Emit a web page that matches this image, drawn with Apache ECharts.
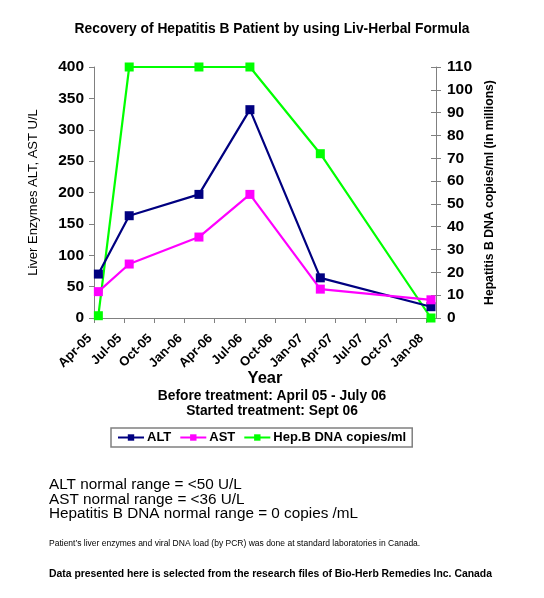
<!DOCTYPE html>
<html>
<head>
<meta charset="utf-8">
<script src="https://cdn.jsdelivr.net/npm/echarts@6/dist/echarts.min.js"></script>
<style>
html,body{margin:0;padding:0;background:#fff;}
#lineChart{width:544px;height:598px;}
</style>
</head>
<body>
<div id="lineChart"></div>
<script>
// test dates, ALT / AST in U/L, Hep.B DNA in millions copies/ml
var testDates = ['2005-04-14','2005-07-16','2006-02-14','2006-07-16','2007-02-16','2008-01-16'];
var altArr = [70, 163, 197, 332, 64, 18];
var astArr = [42, 86, 129, 197, 46, 29];
var dnaArr = [1, 110, 110, 110, 72, 0];
var xLabels = ['Apr-05','Jul-05','Oct-05','Jan-06','Apr-06','Jul-06','Oct-06','Jan-07','Apr-07','Jul-07','Oct-07','Jan-08'];
var leftTicks = [0, 50, 100, 150, 200, 250, 300, 350, 400];
var rightTicks = [0, 10, 20, 30, 40, 50, 60, 70, 80, 90, 100, 110];

var FONT = 'Liberation Sans, Arial, sans-serif';
var AXIS_COLOR = '#808080';

// months counted from 1 Apr 2005
function toMonths(s){
	var p = s.split('-');
	return (parseInt(p[0], 10) - 2005) * 12 + (parseInt(p[1], 10) - 4) + (parseInt(p[2], 10) - 1) / 30;
}
function pairs(vals){
	var out = [];
	for(var i = 0; i < vals.length; i++){
		out.push([toMonths(testDates[i]), vals[i]]);
	}
	return out;
}
function lineSeries(name, color, vals, yIdx){
	return {
		name: name,
		type: 'line',
		yAxisIndex: yIdx,
		data: pairs(vals),
		symbol: 'rect',
		symbolSize: 9,
		lineStyle: {color: color, width: 2.2},
		itemStyle: {color: color},
		z: yIdx == 1 ? 2 : 3
	};
}

var myLine = echarts.init(document.getElementById('lineChart'));
var yStyle = {
	axisLine: {show: true, lineStyle: {color: AXIS_COLOR, width: 1}},
	axisTick: {show: true, length: 5, lineStyle: {color: AXIS_COLOR}},
	splitLine: {show: false}
};
var opt = {
	backgroundColor: '#fff',
	animation: false,
	title: {
		text: 'Recovery of Hepatitis B Patient by using Liv-Herbal Formula',
		left: 'center',
		top: 17,
		textStyle: {fontFamily: FONT, fontSize: 13.8, fontWeight: 'bold', color: '#000'}
	},
	legend: {
		left: 111,
		top: 428,
		padding: [3, 6, 3, 6],
		itemGap: 8,
		itemWidth: 26,
		itemHeight: 8,
		borderColor: AXIS_COLOR,
		borderWidth: 1.5,
		borderRadius: 0,
		textStyle: {fontFamily: FONT, fontSize: 13, fontWeight: 'bold', color: '#000', padding: [0, 0, 0, -2]},
		data: ['ALT', 'AST', 'Hep.B DNA copies/ml']
	},
	grid: {left: 94, right: 108, top: 67, bottom: 280, containLabel: false},
	xAxis: {
		type: 'value',
		min: 0,
		max: 34,
		interval: 3,
		name: 'Year',
		nameLocation: 'middle',
		nameGap: 52,
		nameMoveOverlap: false,
		nameTextStyle: {fontFamily: FONT, fontSize: 16.5, fontWeight: 'bold', color: '#000'},
		axisLine: {show: true, lineStyle: {color: AXIS_COLOR, width: 1}},
		axisTick: {show: true, length: 5, lineStyle: {color: AXIS_COLOR}},
		splitLine: {show: false},
		axisLabel: {
			rotate: 45,
			margin: 14,
			padding: [0, 6, 0, 0],
			showMaxLabel: false,
			fontFamily: FONT, fontSize: 13, fontWeight: 'bold', color: '#000',
			formatter: function(v){
				var i = Math.round(v / 3);
				return (v % 3 === 0 && xLabels[i]) ? xLabels[i] : '';
			}
		}
	},
	yAxis: [
		echarts.util.extend({
			type: 'value', position: 'left',
			min: leftTicks[0], max: leftTicks[leftTicks.length - 1], interval: leftTicks[1] - leftTicks[0],
			name: 'Liver Enzymes ALT, AST U/L',
			nameLocation: 'middle', nameRotate: 90, nameGap: 54,
			nameTextStyle: {fontFamily: FONT, fontSize: 13, color: '#000'},
			axisLabel: {margin: 10, fontFamily: FONT, fontSize: 15.5, fontWeight: 'bold', color: '#000'}
		}, yStyle),
		echarts.util.extend({
			type: 'value', position: 'right',
			min: rightTicks[0], max: rightTicks[rightTicks.length - 1], interval: rightTicks[1] - rightTicks[0],
			name: 'Hepatitis B DNA copies/ml (in millions)',
			nameLocation: 'middle', nameRotate: 90, nameGap: 45,
			nameTextStyle: {fontFamily: FONT, fontSize: 12.2, fontWeight: 'bold', color: '#000'},
			axisLabel: {margin: 11, fontFamily: FONT, fontSize: 15.5, fontWeight: 'bold', color: '#000'}
		}, yStyle),
		// inner half of the crossing ticks on the right axis
		{
			type: 'value', position: 'right',
			min: rightTicks[0], max: rightTicks[rightTicks.length - 1], interval: rightTicks[1] - rightTicks[0],
			axisLine: {show: false},
			axisTick: {show: true, inside: true, length: 5, lineStyle: {color: AXIS_COLOR}},
			axisLabel: {show: false},
			splitLine: {show: false}
		}
	],
	graphic: [
		{type: 'text', left: 'center', top: 389, style: {text: 'Before treatment: April 05 - July 06', fontFamily: FONT, fontSize: 13.8, fontWeight: 'bold', fill: '#000'}},
		{type: 'text', left: 'center', top: 404, style: {text: 'Started treatment: Sept 06', fontFamily: FONT, fontSize: 13.8, fontWeight: 'bold', fill: '#000'}},
		{type: 'text', left: 49, top: 477, style: {text: 'ALT normal range = <50 U/L', fontFamily: FONT, fontSize: 15.3, fill: '#000'}},
		{type: 'text', left: 49, top: 492, style: {text: 'AST normal range = <36 U/L', fontFamily: FONT, fontSize: 15.3, fill: '#000'}},
		{type: 'text', left: 49, top: 506, style: {text: 'Hepatitis B DNA normal range = 0 copies /mL', fontFamily: FONT, fontSize: 15.3, fill: '#000'}},
		{type: 'text', left: 49, top: 539, style: {text: 'Patient\u2019s liver enzymes and viral DNA load (by PCR) was done at standard laboratories in Canada.', fontFamily: FONT, fontSize: 8.5, fill: '#000'}},
		{type: 'text', left: 49, top: 569, style: {text: 'Data presented here is selected from the research files of Bio-Herb Remedies Inc. Canada', fontFamily: FONT, fontSize: 10.4, fontWeight: 'bold', fill: '#000'}}
	],
	series: [
		lineSeries('ALT', '#000080', altArr, 0),
		lineSeries('AST', '#FF00FF', astArr, 0),
		lineSeries('Hep.B DNA copies/ml', '#00FF00', dnaArr, 1)
	]
};
myLine.setOption(opt);
</script>
</body>
</html>
